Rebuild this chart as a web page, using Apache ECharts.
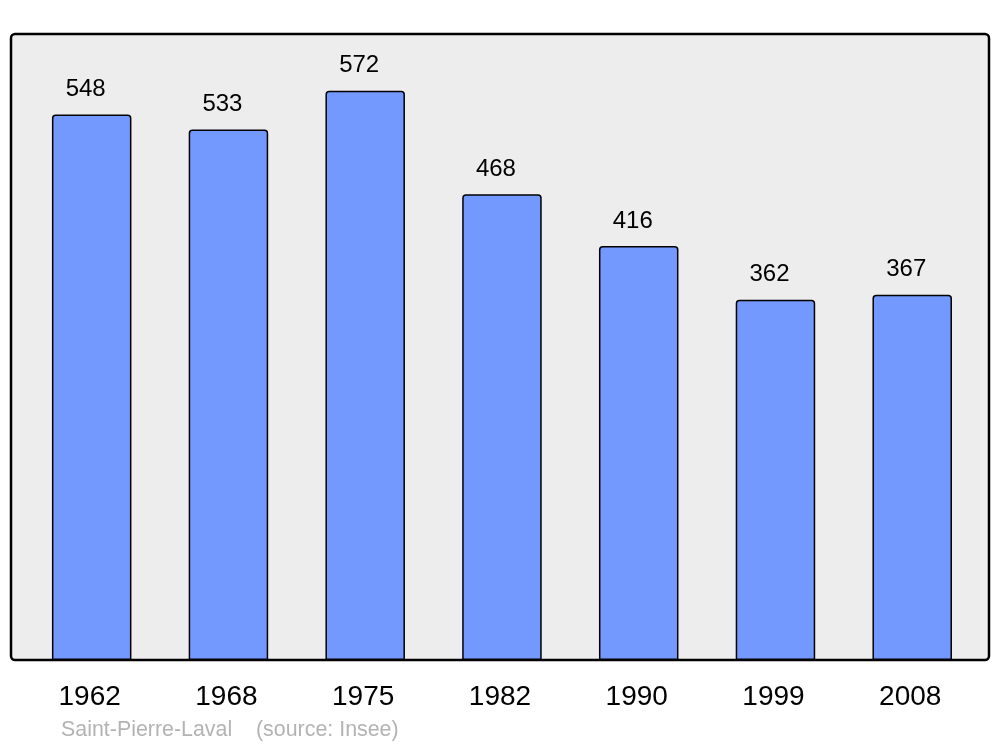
<!DOCTYPE html>
<html>
<head>
<meta charset="utf-8">
<script src="https://cdn.jsdelivr.net/npm/echarts@6/dist/echarts.min.js"></script>
<style>
html, body { margin: 0; padding: 0; background: #fff; }
#chart { width: 1000px; height: 747px; }
</style>
</head>
<body>
<div id="chart"></div>
<script>
const years = ['1962', '1968', '1975', '1982', '1990', '1999', '2008'];
const population = [548, 533, 572, 468, 416, 362, 367];

const myChart = echarts.init(document.getElementById('chart'));

const option = {
    backgroundColor: '#fff',
    animation: false,
    textStyle: { fontFamily: 'Liberation Sans' },
    graphic: [
        {
            type: 'rect',
            z: -10,
            shape: { x: 11, y: 34, width: 978, height: 626, r: 4 },
            style: { fill: '#ededed', stroke: '#000', lineWidth: 2.5 }
        },
        {
            type: 'text',
            left: 61,
            top: 720,
            style: {
                text: 'Saint-Pierre-Laval    (source: Insee)',
                fill: '#b3b3b3',
                fontSize: 21.4,
                fontFamily: 'Liberation Sans'
            }
        }
    ],
    grid: {
        left: 23.3,
        right: 19.4,
        top: 34,
        bottom: 87,
        containLabel: false
    },
    xAxis: {
        type: 'category',
        data: years,
        axisLine: { show: false },
        axisTick: { show: false },
        axisLabel: {
            color: '#000',
            fontSize: 28,
            margin: 23,
            padding: [0, 4, 0, 0]
        }
    },
    yAxis: {
        type: 'value',
        min: 0,
        max: 629,
        show: false,
        splitLine: { show: false }
    },
    series: [
        {
            type: 'bar',
            data: population,
            barWidth: 79.5,
            itemStyle: {
                color: '#7399ff',
                borderColor: '#000',
                borderWidth: 1.5,
                borderRadius: [3, 3, 0, 0]
            },
            label: {
                show: true,
                position: 'top',
                distance: 13,
                offset: [-6, 0],
                color: '#000',
                fontSize: 24
            }
        }
    ]
};

myChart.setOption(option);
</script>
</body>
</html>
